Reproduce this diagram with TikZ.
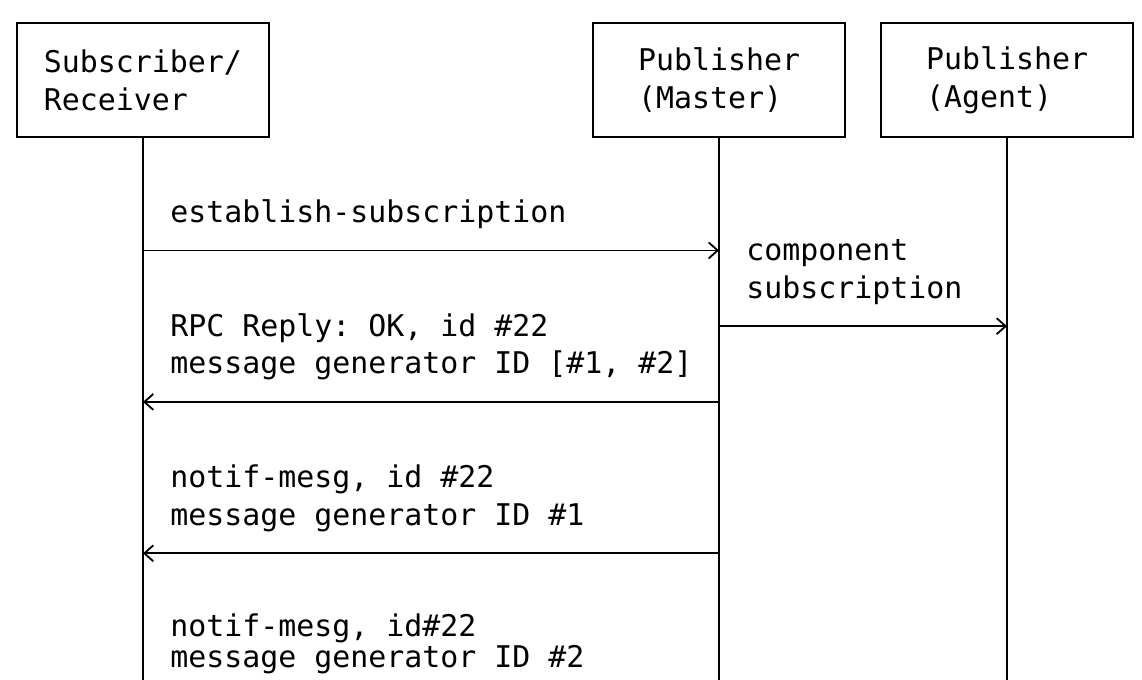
\documentclass[tikz,border=0pt]{standalone}
\usepackage{fontspec}
\setmonofont{DejaVu Sans Mono}
\usetikzlibrary{arrows.meta}
\newcommand{\asc}{\ttfamily\fontsize{14.95pt}{18.93pt}\selectfont}
\tikzset{
  party/.style={draw, line width=0.9pt, align=left, inner sep=0pt,
    minimum width=126pt, minimum height=56.8pt, font=\asc},
  note/.style={anchor=base west, inner sep=0pt, font=\asc},
  life/.style={line width=0.9pt},
  msg/.style={-{Straight Barb[length=4.5pt, width=8pt]}, line width=0.9pt},
}

\begin{document}
\begin{tikzpicture}[x=9pt, y=-18.93pt]
    \useasboundingbox[fill=white] (-0.944,-0.615) rectangle (62.5,17.345);
    \node[party] (sub) at (7,1.5) {Subscriber/\\Receiver};
    \node[party] (master) at (39,1.5) {Publisher\\(Master)};
    \node[party] (agent) at (55,1.5) {Publisher\\(Agent)};
    \foreach \p in {sub,master,agent} \draw[life] (\p.south) -- (\p.south |- 0,17.6);
    \draw[msg] (sub.south |- 0,6) -- (master.south |- 0,6);
    \draw[msg] (master.south |- 0,8) -- (agent.south |- 0,8);
    \draw[msg] (master.south |- 0,10) -- (sub.south |- 0,10);
    \draw[msg] (master.south |- 0,14) -- (sub.south |- 0,14);
    \node[note] (req) at (8.5,5.26) {establish-subscription};
    \node[note] (comp) at (40.5,6.26) {component};
    \node[note] (comp2) at (40.5,7.26) {subscription};
    \node[note] (reply) at (8.5,8.26) {RPC Reply: OK, id \#22};
    \node[note] (reply2) at (8.5,9.26) {message generator ID [\#1, \#2]};
    \node[note] (notif) at (8.5,12.26) {notif-mesg, id \#22};
    \node[note] (notif2) at (8.5,13.26) {message generator ID \#1};
    \node[note] (notifb) at (8.5,16.2) {notif-mesg, id\#22};
    \node[note] (notifb2) at (8.5,17.02) {message generator ID \#2};
  \end{tikzpicture}
\end{document}
